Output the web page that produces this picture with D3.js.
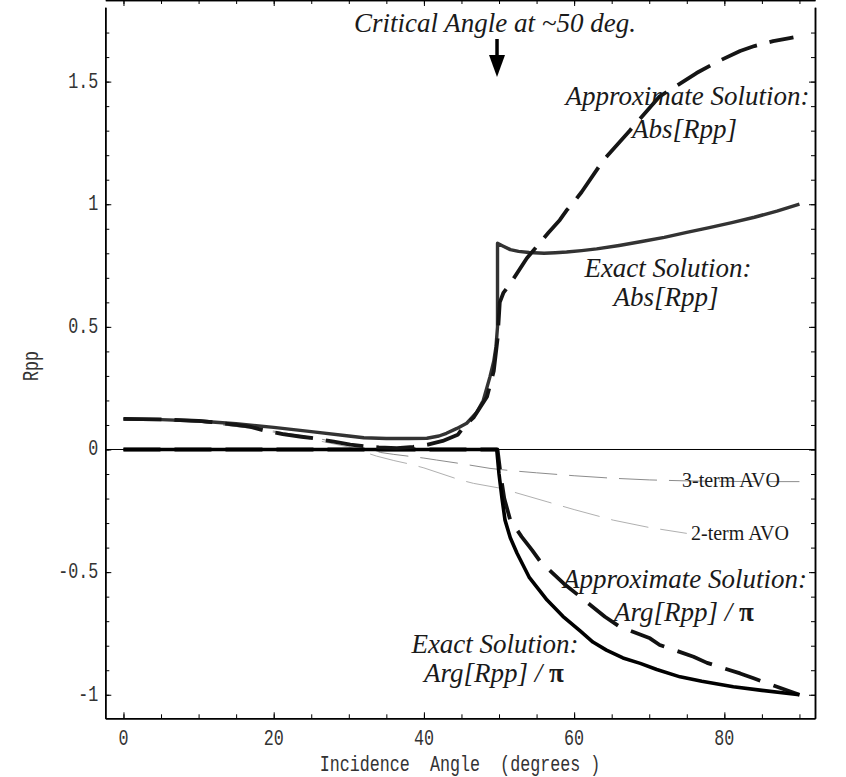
<!DOCTYPE html>
<html>
<head>
<meta charset="utf-8">
<script src="https://cdn.jsdelivr.net/npm/d3@7"></script>
<style>
  html, body { margin: 0; padding: 0; background: #fff; }
  svg { display: block; }
</style>
</head>
<body>
<svg></svg>
<script>
var WIDTH = 846;
var HEIGHT = 777;

// tick values and labels
var xMajorTicks = [0, 20, 40, 60, 80];
var xTickLabels = ['0', '20', '40', '60', '80'];
var xMinorTicks = [0, 5, 10, 15, 20, 25, 30, 35, 40, 45, 50, 55, 60, 65, 70, 75, 80, 85, 90];
var yMajorTicks = [-1, -0.5, 0, 0.5, 1, 1.5];
var yTickLabels = ['-1', '-0.5', '0', '0.5', '1', '1.5'];
var yMinorTicks = [-1, -0.9, -0.8, -0.7, -0.6, -0.5, -0.4, -0.3, -0.2, -0.1, 0, 0.1, 0.2, 0.3, 0.4,
                   0.5, 0.6, 0.7, 0.8, 0.9, 1, 1.1, 1.2, 1.3, 1.4, 1.5, 1.6, 1.7];
var criticalAngle = 50;

// exact solution, Abs[Rpp]
var exactAbsAngles = [0, 5, 10, 15, 20, 25, 30, 32, 35, 38, 40.4, 42, 43, 44.4, 45.7, 47, 47.9, 48.8, 49.3, 49.6, 49.8,
                      49.8, 50.5, 51.5, 52.6, 54, 56, 57.5, 59, 61, 63, 66, 69, 72, 75, 78, 81, 84, 87, 90];
var exactAbsValues = [0.124, 0.122, 0.116, 0.105, 0.09, 0.073, 0.055, 0.048, 0.045, 0.045, 0.046, 0.055, 0.066, 0.086, 0.107, 0.15, 0.2, 0.297, 0.36, 0.42, 0.5,
                      0.841, 0.83, 0.815, 0.808, 0.803, 0.8, 0.802, 0.805, 0.811, 0.818, 0.832, 0.848, 0.865, 0.885, 0.905, 0.925, 0.947, 0.972, 1.0];

// approximate solution, Abs[Rpp]
var approxAbsAngles = [0, 5, 10, 12, 15, 16.8, 18.8, 21.2, 23.7, 25.5, 28, 30.2, 32.2, 34, 36.4, 38.6, 40.5, 42.5, 44.5, 45.5, 46.6, 48.4, 49.3, 49.8,
                       50.1, 50.6, 51.2, 52, 53.7, 55.2, 56.6, 58.1, 59, 60, 61, 63.9, 67.4, 71.4, 74, 76.3, 79, 82.1, 84, 86.5, 88.7, 89.2];
var approxAbsValues = [0.125, 0.123, 0.117, 0.111, 0.1, 0.093, 0.077, 0.063, 0.052, 0.045, 0.032, 0.02, 0.013, 0.009, 0.006, 0.011, 0.02, 0.035, 0.06, 0.1, 0.13, 0.215, 0.32, 0.45,
                       0.6, 0.64, 0.664, 0.7, 0.78, 0.834, 0.885, 0.936, 0.975, 1.01, 1.05, 1.18, 1.3, 1.44, 1.49, 1.535, 1.58, 1.625, 1.645, 1.665, 1.677, 1.68];

// exact solution, Arg[Rpp] / pi
var exactArgAngles = [0, 49.7, 50.0, 50.4, 50.8, 51.5, 52.4, 54, 56.4, 58.5, 60.8, 62.5, 64.3, 66.5, 68.8, 71, 74.1, 77, 81.2, 85, 90];
var exactArgValues = [0, 0, -0.1, -0.2, -0.288, -0.36, -0.423, -0.52, -0.614, -0.68, -0.74, -0.785, -0.818, -0.85, -0.872, -0.897, -0.927, -0.945, -0.967, -0.982, -1.0];

// approximate solution, Arg[Rpp] / pi
var approxArgAngles = [0, 49.8, 50.2, 50.7, 51.5, 53, 54.4, 55.5, 58.6, 60.8, 64.1, 66.1, 70.1, 71.4, 75.9, 77.7, 82.1, 83.9, 90];
var approxArgValues = [0, 0, -0.1, -0.2, -0.288, -0.355, -0.41, -0.457, -0.546, -0.6, -0.682, -0.723, -0.77, -0.797, -0.845, -0.87, -0.913, -0.933, -1.0];

// 3-term AVO
var avo3Angles = [0, 10, 16.9, 20, 25, 30, 33, 34.2, 36, 40, 41.7, 45, 48.8, 51.5, 55, 60, 65, 70, 75, 80, 85, 90];
var avo3Values = [0.125, 0.112, 0.087, 0.075, 0.05, 0.02, 0.002, -0.012, -0.02, -0.035, -0.043, -0.058, -0.077, -0.086, -0.095, -0.107, -0.117, -0.124, -0.128, -0.13, -0.131, -0.131];

// 2-term AVO
var avo2Angles = [0, 10, 16.9, 20, 25, 30, 33.7, 36, 38.2, 40, 44.8, 46.6, 50.2, 56.4, 60, 65.2, 70, 75];
var avo2Values = [0.125, 0.112, 0.087, 0.07, 0.042, 0.01, -0.027, -0.045, -0.06, -0.075, -0.124, -0.138, -0.158, -0.213, -0.245, -0.288, -0.318, -0.342];

var svg = d3.select('svg')
    .attr('width', WIDTH)
    .attr('height', HEIGHT);

// plot frame runs from x=105.3..815, y=7.3..718.3
var x = d3.scaleLinear().domain([-2.42, 92.07]).range([105.3, 815]);
var y = d3.scaleLinear().domain([-1.096, 1.803]).range([718.3, 7.3]);

var monoFont = '"Liberation Mono", "DejaVu Sans Mono", monospace';
var serifFont = '"Liberation Serif", "DejaVu Serif", serif';

// zero line
svg.append('line')
    .attr('x1', x.range()[0]).attr('x2', x.range()[1])
    .attr('y1', y(0)).attr('y2', y(0))
    .attr('stroke', '#000')
    .attr('stroke-width', 1);

// frame with inward ticks on all four sides
function drawAxis(axis, tx, ty) {
    var g = svg.append('g')
        .attr('transform', 'translate(' + tx + ',' + ty + ')')
        .call(axis);
    g.select('.domain').attr('stroke', '#000').attr('stroke-width', 1.5);
    g.selectAll('.tick line').attr('stroke', '#000').attr('stroke-width', 1);
    g.selectAll('.tick text').remove();
    return g;
}

var bottom = y.range()[0], top = y.range()[1];
var left = x.range()[0], right = x.range()[1];

drawAxis(d3.axisBottom(x).tickValues(xMinorTicks).tickSize(-4).tickSizeOuter(0), 0, bottom);
drawAxis(d3.axisBottom(x).tickValues(xMajorTicks).tickSize(-6).tickSizeOuter(0), 0, bottom);
drawAxis(d3.axisTop(x).tickValues(xMinorTicks).tickSize(-4).tickSizeOuter(0), 0, top);
drawAxis(d3.axisTop(x).tickValues(xMajorTicks).tickSize(-6).tickSizeOuter(0), 0, top);
drawAxis(d3.axisLeft(y).tickValues(yMinorTicks).tickSize(-4).tickSizeOuter(0), left, 0);
drawAxis(d3.axisLeft(y).tickValues(yMajorTicks).tickSize(-6).tickSizeOuter(0), left, 0);
drawAxis(d3.axisRight(y).tickValues(yMinorTicks).tickSize(-4).tickSizeOuter(0), right, 0);
drawAxis(d3.axisRight(y).tickValues(yMajorTicks).tickSize(-6).tickSizeOuter(0), right, 0);

// tick labels, tall narrow courier look
svg.selectAll('.xlabel')
    .data(xMajorTicks)
    .enter().append('text')
    .attr('class', 'xlabel')
    .attr('transform', function(d) { return 'translate(' + x(d) + ',' + (bottom + 26.5) + ') scale(0.88,1.15)'; })
    .attr('text-anchor', 'middle')
    .attr('font-family', monoFont)
    .attr('font-size', 19)
    .attr('fill', '#333')
    .text(function(d, i) { return xTickLabels[i]; });

svg.selectAll('.ylabel')
    .data(yMajorTicks)
    .enter().append('text')
    .attr('class', 'ylabel')
    .attr('transform', function(d) { return 'translate(' + (left - 7) + ',' + (y(d) + 6) + ') scale(0.88,1.2)'; })
    .attr('text-anchor', 'end')
    .attr('font-family', monoFont)
    .attr('font-size', 19)
    .attr('fill', '#333')
    .text(function(d, i) { return yTickLabels[i]; });

// axis titles
svg.append('text')
    .attr('transform', 'translate(460,771) scale(0.88,1.15)')
    .attr('text-anchor', 'middle')
    .attr('font-family', monoFont)
    .attr('font-size', 19)
    .attr('fill', '#333')
    .style('white-space', 'pre')
    .text('Incidence  Angle  (degrees )');

svg.append('text')
    .attr('transform', 'translate(38,366) rotate(-90) scale(0.88,1.2)')
    .attr('text-anchor', 'middle')
    .attr('font-family', monoFont)
    .attr('font-size', 19)
    .attr('fill', '#333')
    .text('Rpp');

// curves
var line = d3.line()
    .x(function(d) { return x(d[0]); })
    .y(function(d) { return y(d[1]); });

var series = [
    { pts: d3.zip(avo2Angles, avo2Values), color: '#b0b0b0', width: 1, dash: '38,12' },
    { pts: d3.zip(avo3Angles, avo3Values), color: '#8c8c8c', width: 1, dash: '38,12' },
    { pts: d3.zip(approxArgAngles, approxArgValues), color: '#111', width: 3.8, dash: '37,14' },
    { pts: d3.zip(exactArgAngles, exactArgValues), color: '#000', width: 3.6, dash: null },
    { pts: d3.zip(exactAbsAngles, exactAbsValues), color: '#333', width: 3.4, dash: null },
    { pts: d3.zip(approxAbsAngles, approxAbsValues), color: '#151515', width: 3.8, dash: '38,13' }
];

svg.selectAll('.curve')
    .data(series)
    .enter().append('path')
    .attr('class', 'curve')
    .attr('d', function(d) { return line(d.pts); })
    .attr('fill', 'none')
    .attr('stroke', function(d) { return d.color; })
    .attr('stroke-width', function(d) { return d.width; })
    .attr('stroke-dasharray', function(d) { return d.dash; })
    .attr('stroke-linejoin', 'round');

// annotations
function label(txt, cx, by, anchor, italic, size) {
    return svg.append('text')
        .attr('x', cx).attr('y', by)
        .attr('text-anchor', anchor)
        .attr('font-family', serifFont)
        .attr('font-style', italic ? 'italic' : 'normal')
        .attr('font-size', size)
        .attr('fill', '#1a1a1a')
        .text(txt);
}

function argLabel(cx, by) {
    var t = label('Arg[Rpp] / ', cx, by, 'middle', true, 27).style('white-space', 'pre');
    t.append('tspan')
        .attr('font-style', 'normal')
        .attr('font-weight', 'bold')
        .text('\u03c0');
}

label('Critical Angle at ~50 deg.', 495, 32, 'middle', true, 27);

// arrow pointing at the critical angle
var ax = x(criticalAngle) - 2;
svg.append('path')
    .attr('d', 'M' + ax + ',39 L' + ax + ',60')
    .attr('stroke', '#000')
    .attr('stroke-width', 3.5);
svg.append('path')
    .attr('d', 'M' + (ax - 8) + ',55 L' + (ax + 8) + ',55 L' + ax + ',77 Z')
    .attr('fill', '#000');

label('Approximate Solution:', 687.5, 105, 'middle', true, 27);
label('Abs[Rpp]', 684.5, 138, 'middle', true, 27);
label('Exact Solution:', 668, 277, 'middle', true, 27);
label('Abs[Rpp]', 666, 306, 'middle', true, 27);
label('3-term AVO', 682, 487, 'start', false, 20);
label('2-term AVO', 691, 540, 'start', false, 20);
label('Approximate Solution:', 685, 588, 'middle', true, 27);
argLabel(684, 621);
label('Exact Solution:', 495, 653, 'middle', true, 27);
argLabel(494, 682);
</script>
</body>
</html>
